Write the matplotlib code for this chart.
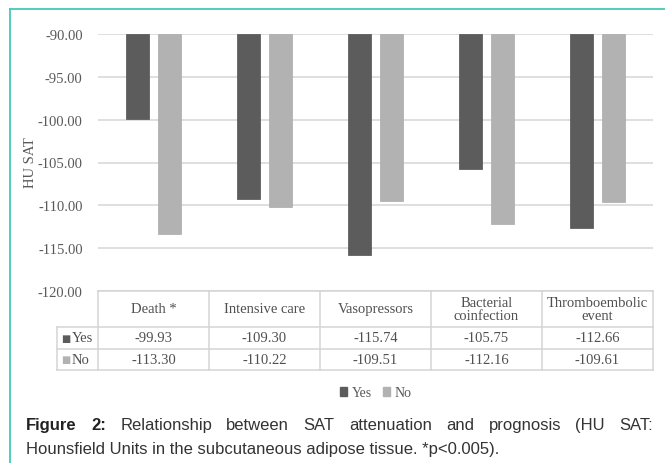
import numpy as np
import matplotlib
matplotlib.use("Agg")
import matplotlib.pyplot as plt
import matplotlib.transforms as mtransforms
from matplotlib.lines import Line2D
from matplotlib.patches import Patch

plt.rcParams['font.family'] = ['Liberation Serif', 'DejaVu Serif']

categories = ["Death *", "Intensive care", "Vasopressors", "Bacterial\ncoinfection", "Thromboembolic\nevent"]
yes_vals = [-99.93, -109.30, -115.74, -105.75, -112.66]
no_vals = [-113.30, -110.22, -109.51, -112.16, -109.61]
series_names = ["Yes", "No"]
yticks = [-120, -115, -110, -105, -100, -95, -90]
baseline = -90

W, H = 665, 464
c_yes = '#5c5c5c'
c_no = '#b2b2b2'
grid_c = '#d9d9d9'
txt_c = '#595959'
teal = '#45c9b6'

def fx(px):
    return px / W

def fy(py):
    return 1 - py / H

fig = plt.figure(figsize=(W / 100, H / 100), dpi=100)
ax = fig.add_axes([fx(98), fy(292), (653 - 98) / W, (292 - 35) / H])

x = np.arange(len(categories))
bw = 0.215
off = 0.144
ax.bar(x - off, np.array(yes_vals) - baseline, bottom=baseline, width=bw,
       color=c_yes, edgecolor='#505050', linewidth=0.5, zorder=3)
ax.bar(x + off, np.array(no_vals) - baseline, bottom=baseline, width=bw,
       color=c_no, edgecolor='#aaaaaa', linewidth=0.5, zorder=3)

ax.set_xlim(-0.5, len(categories) - 0.5)
ax.set_ylim(-120, -90)
ax.set_yticks(yticks)
ax.set_yticklabels([f"{v:.2f}" for v in yticks], color=txt_c, fontsize=10.5)
ax.tick_params(axis='y', length=0, pad=11)
ax.set_xticks([])
ax.grid(axis='y', color=grid_c, linewidth=1.2, zorder=0)
for s in ax.spines.values():
    s.set_visible(False)

fig.text(fx(30), fy(163), "HU SAT", rotation=90, ha='center', va='center',
         color=txt_c, fontsize=10.5)

# data table under the plot
trans = mtransforms.blended_transform_factory(ax.transData, ax.transAxes)
ph = 292 - 35
y_top = 0
y_head = -(328 - 292) / ph
y_yes = -(350 - 292) / ph
y_no = -(371 - 292) / ph
x_lab = (57 - 98) / 111 - 0.5
x_l, x_r = -0.5, len(categories) - 0.5
tl = dict(transform=trans, clip_on=False, color='#d4d4d4', lw=1.1)

ax.plot([x_l, x_r], [y_top, y_top], **tl)
for yy in (y_head, y_yes, y_no):
    ax.plot([x_lab, x_r], [yy, yy], **tl)
ax.plot([x_lab, x_lab], [y_head, y_no], **tl)
for b in np.arange(len(categories) + 1) - 0.5:
    ax.plot([b, b], [y_top, y_no], **tl)

tc = '#505050'
for i, cat in enumerate(categories):
    ax.text(i, (y_top + y_head) / 2, cat, transform=trans, ha='center', va='center',
            color=tc, fontsize=10.5, linespacing=1.05)
    ax.text(i, (y_head + y_yes) / 2, f"{yes_vals[i]:.2f}", transform=trans,
            ha='center', va='center', color=tc, fontsize=10.5)
    ax.text(i, (y_yes + y_no) / 2, f"{no_vals[i]:.2f}", transform=trans,
            ha='center', va='center', color=tc, fontsize=10.5)

for name, col, (ya, yb) in zip(series_names, [c_yes, c_no], [(y_head, y_yes), (y_yes, y_no)]):
    ym = (ya + yb) / 2
    ax.text(x_lab + 0.04, ym, "\u25a0", transform=trans, ha='left', va='center',
            color=col, fontsize=7, family='DejaVu Sans')
    ax.text(x_lab + 0.135, ym, name, transform=trans, ha='left', va='center',
            color=tc, fontsize=10.5)

handles = [Patch(facecolor=c_yes, edgecolor=c_yes), Patch(facecolor=c_no, edgecolor=c_no)]
fig.legend(handles, series_names, loc='center', bbox_to_anchor=(fx(375.5), fy(394)),
           ncol=2, frameon=False, handlelength=0.55, handleheight=0.55,
           handletextpad=0.3, columnspacing=0.8, prop={'size': 10},
           labelcolor=txt_c)

# frame
fig.add_artist(Line2D([fx(10), 1], [fy(10), fy(10)], color=teal, lw=1.3))
fig.add_artist(Line2D([fx(10), fx(10)], [fy(10), 0], color=teal, lw=1.3))

# caption, first line justified
cap1 = [("Figure", True), ("2:", True)] + [(w, False) for w in
        "Relationship between SAT attenuation and prognosis (HU SAT:".split()]
cap2 = "Hounsfield Units in the subcutaneous adipose tissue. *p<0.005)."
cfont = dict(family='Liberation Sans', fontsize=12)
renderer = fig.canvas.get_renderer()
words = []
for w, bold in cap1:
    t = fig.text(0, fy(426), w, va='center', ha='left',
                 fontweight='bold' if bold else 'normal',
                 color='#222222' if bold else '#333333', **cfont)
    words.append(t)
widths = [t.get_window_extent(renderer).width for t in words]
gap = (653 - 26 - sum(widths)) / (len(words) - 1)
xp = 26
for t, wd in zip(words, widths):
    t.set_x(fx(xp))
    xp += wd + gap
fig.text(fx(26), fy(450), cap2, va='center', ha='left', color='#333333', **cfont)

fig.savefig("out.png", dpi=100)
